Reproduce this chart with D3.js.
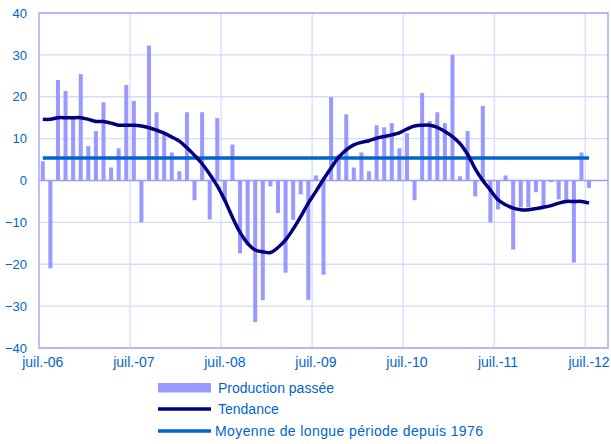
<!DOCTYPE html>
<html>
<head>
<meta charset="utf-8">
<script src="https://cdn.jsdelivr.net/npm/d3@7"></script>
<style>
  html, body { margin: 0; padding: 0; background: #ffffff; }
  svg { display: block; }
  text { font-family: Arial, "Liberation Sans", sans-serif; }
</style>
</head>
<body>
<svg id="chart" width="611" height="444"></svg>
<script>
// ---- data ----
const monthNames = ["juil.", "août", "sept.", "oct.", "nov.", "déc.", "janv.", "févr.", "mars", "avr.", "mai", "juin"];
const startYear = 2006;
const nMonths = 73;           // juil.-06 .. juil.-12
const axisCategories = 75;    // category axis continues two more slots
const categories = d3.range(nMonths).map(i => {
  const m = i % 12;
  const y = startYear + Math.floor((i + 6) / 12);
  return monthNames[m] + "-" + String(y).slice(2);
});

const productionPassee = [
  4.6, -21.0, 24.0, 21.4, 15.2, 25.4, 8.2, 11.8, 18.7, 3.1, 7.7, 22.8,
  19.0, -10.0, 32.2, 16.3, 11.0, 6.7, 2.2, 16.3, -4.7, 16.3, -9.3, 14.9,
  -5.0, 8.6, -17.4, -15.5, -33.8, -28.6, -1.4, -7.8, -22.0, -9.4, -3.3, -28.5,
  1.2, -22.5, 19.9, 6.2, 15.8, 3.1, 6.7, 2.2, 13.2, 12.7, 13.7, 7.7,
  11.3, -4.7, 20.9, 14.2, 16.3, 13.7, 30.0, 1.0, 11.8, -3.8, 17.8, -10.0,
  -6.9, 1.2, -16.5, -6.4, -6.4, -2.8, -6.2, -0.4, -4.5, -4.7, -19.6, 6.7,
  -1.8
];

const tendance = [
  14.6, 14.6, 15.0, 15.0, 15.0, 15.0, 14.6, 14.1, 14.1, 13.7, 13.2, 13.2,
  13.2, 13.0, 12.6, 12.0, 11.3, 10.4, 9.4, 7.8, 6.0, 4.0, 1.5, -1.3,
  -4.8, -8.8, -12.4, -15.0, -16.6, -17.0, -17.2, -16.0, -14.2, -11.6, -8.6, -5.4,
  -2.6, 0.3, 3.0, 5.5, 7.3, 8.5, 9.1, 9.5, 10.1, 10.5, 10.9, 11.4,
  12.3, 13.0, 13.2, 13.2, 12.7, 11.7, 10.5, 8.8, 6.2, 2.8, 0.0, -2.3,
  -4.6, -5.8, -6.6, -7.0, -7.0, -6.7, -6.4, -6.0, -5.4, -5.0, -5.0, -5.0,
  -5.4
];

const moyenneLongue = 5.4;

const yTicks = [-40, -30, -20, -10, 0, 10, 20, 30, 40];
const xTickIndices = [0, 12, 24, 36, 48, 60, 72];
const xTickLabels = ["juil.-06", "juil.-07", "juil.-08", "juil.-09", "juil.-10", "juil.-11", "juil.-12"];

const legendItems = ["Production passée", "Tendance", "Moyenne de longue période depuis 1976"];

// ---- layout ----
const svg = d3.select("#chart");
const plot = { left: 39, right: 608, top: 13, bottom: 348 };
const textColor = "#0066CC";
const barColor = "#9999FF";
const gridColor = "#D9D9FF";
const axisColor = "#9999FF";

const x = d3.scaleBand()
  .domain(d3.range(axisCategories))
  .range([plot.left, plot.right])
  .paddingInner(0.47)
  .paddingOuter(0.235);
const step = x.step();
const cx = i => x(i) + x.bandwidth() / 2;

const y = d3.scaleLinear().domain([-40, 40]).range([plot.bottom, plot.top]);

// horizontal gridlines
svg.append("g").selectAll("line").data(yTicks.filter(v => v !== 0)).join("line")
  .attr("x1", plot.left).attr("x2", plot.right)
  .attr("y1", d => y(d)).attr("y2", d => y(d))
  .attr("stroke", gridColor).attr("stroke-width", 1.3);

// vertical gridlines at category boundaries every 12 months
svg.append("g").selectAll("line").data(xTickIndices.filter(i => i > 0)).join("line")
  .attr("x1", d => x(d) - step * x.paddingInner() / 2).attr("x2", d => x(d) - step * x.paddingInner() / 2)
  .attr("y1", plot.top).attr("y2", plot.bottom)
  .attr("stroke", gridColor).attr("stroke-width", 1.3);

// plot border
svg.append("rect")
  .attr("x", plot.left).attr("y", plot.top)
  .attr("width", plot.right - plot.left).attr("height", plot.bottom - plot.top)
  .attr("fill", "none").attr("stroke", "#A8A8FF").attr("stroke-width", 1.5);

// bars
svg.append("g").selectAll("rect").data(productionPassee).join("rect")
  .attr("x", (d, i) => x(i))
  .attr("width", x.bandwidth())
  .attr("y", d => y(Math.max(0, d)))
  .attr("height", d => Math.abs(y(d) - y(0)))
  .attr("fill", barColor);

// zero axis line
svg.append("line")
  .attr("x1", plot.left).attr("x2", plot.right)
  .attr("y1", y(0)).attr("y2", y(0))
  .attr("stroke", axisColor).attr("stroke-width", 1.3);

// long-term mean line
const meanLine = d3.line().x(d => cx(d)).y(() => y(moyenneLongue));
svg.append("path")
  .datum([0, nMonths - 1])
  .attr("d", meanLine)
  .attr("fill", "none").attr("stroke", "#0066CC").attr("stroke-width", 3.5);

// trend line
const trendLine = d3.line().x((d, i) => cx(i)).y(d => y(d)).curve(d3.curveCatmullRom.alpha(0.5));
svg.append("path")
  .datum(tendance)
  .attr("d", trendLine)
  .attr("fill", "none").attr("stroke", "#000080").attr("stroke-width", 3.5)
  .attr("stroke-linejoin", "round");

// y axis labels
const yAxis = d3.axisLeft(y).tickValues(yTicks).tickSize(0).tickPadding(12);
const gy = svg.append("g").attr("transform", `translate(${plot.left},0)`).call(yAxis);
gy.select(".domain").remove();
gy.selectAll("text").attr("fill", textColor).style("font-size", "13px")
  .style("font-family", "Arial, 'Liberation Sans', sans-serif");

// x axis labels
const xAxis = d3.axisBottom(x).tickValues(xTickIndices).tickSize(0).tickPadding(9)
  .tickFormat((d, i) => xTickLabels[i]);
const gx = svg.append("g").attr("transform", `translate(0,${plot.bottom})`).call(xAxis);
gx.select(".domain").remove();
gx.selectAll("text").attr("fill", textColor).style("font-size", "14px")
  .style("font-family", "Arial, 'Liberation Sans', sans-serif");

// legend
const lg = svg.append("g");
lg.append("rect").attr("x", 158).attr("y", 383).attr("width", 53).attr("height", 9.5).attr("fill", barColor);
lg.append("line").attr("x1", 158).attr("x2", 211).attr("y1", 409).attr("y2", 409)
  .attr("stroke", "#000080").attr("stroke-width", 3.5);
lg.append("line").attr("x1", 158).attr("x2", 211).attr("y1", 431).attr("y2", 431)
  .attr("stroke", "#0066CC").attr("stroke-width", 3.5);
const legendY = [392.5, 414, 436];
const legendX = [218, 218, 215];
lg.selectAll("text").data(legendItems).join("text")
  .attr("x", (d, i) => legendX[i]).attr("y", (d, i) => legendY[i])
  .attr("fill", textColor).style("font-size", "14px")
  .text(d => d)
  .each(function (d, i) {
    if (i === 2) d3.select(this).attr("textLength", 268).attr("lengthAdjust", "spacing");
  });
</script>
</body>
</html>
